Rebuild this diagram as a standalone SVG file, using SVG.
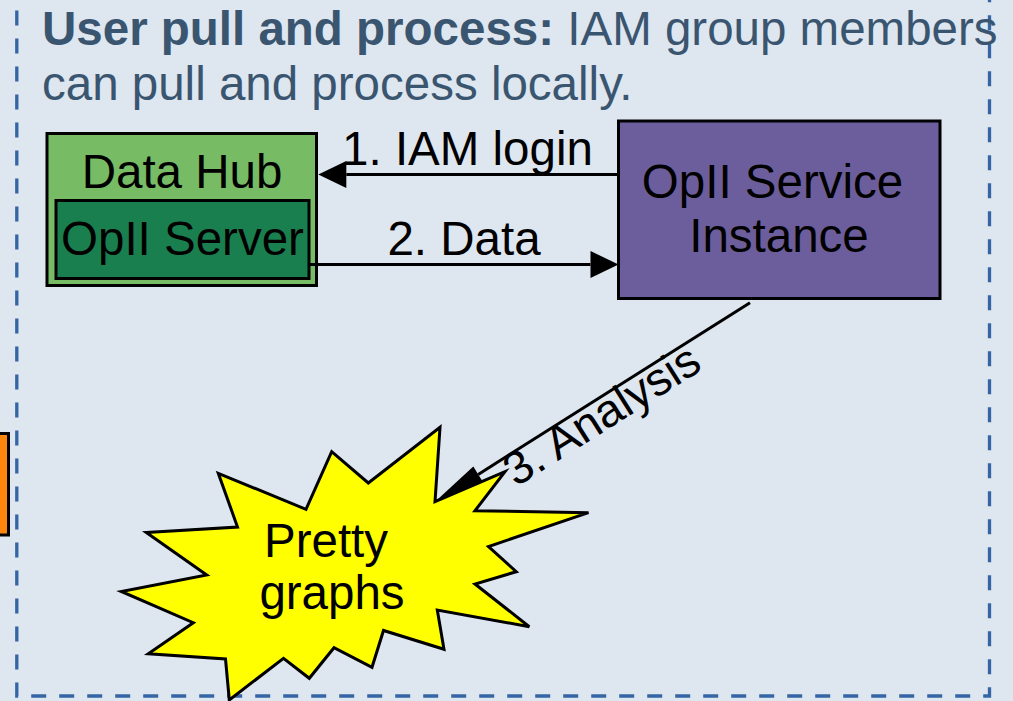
<svg xmlns="http://www.w3.org/2000/svg" width="1013" height="701" viewBox="0 0 1013 701">
<defs>
<style>
.box{stroke:#000;stroke-width:3;stroke-linejoin:miter}
.lbl{font-family:"Liberation Sans",Arial,sans-serif;font-size:47.5px;fill:#000}
.title{font-family:"Liberation Sans",Arial,sans-serif;font-size:47.5px;fill:#3a5570}
.conn{stroke:#000;stroke-width:3;fill:none}
</style>
<marker id="arrow" markerUnits="userSpaceOnUse" viewBox="0 -14 28 28" refX="0" refY="0" markerWidth="28" markerHeight="28" orient="auto" overflow="visible">
<path d="M0,-13.5 L28,0 L0,13.5 z" fill="#000"/>
</marker>
<marker id="arrowLong" markerUnits="userSpaceOnUse" viewBox="0 -10 52 20" refX="0" refY="0" markerWidth="52" markerHeight="20" orient="auto" overflow="visible">
<path d="M0,-9.2 L51,0 L0,9.2 z" fill="#000"/>
</marker>
</defs>
<rect x="0" y="0" width="1013" height="701" fill="#dee6ef"/>
<g id="frame">
<rect x="16.8" y="-20" width="972.7" height="716" fill="none" stroke="#3465a4" stroke-width="3.3" stroke-dasharray="15 13"/>
</g>
<g id="title">
<text class="title" x="42" y="45"><tspan font-weight="bold">User pull and process:</tspan> IAM group members</text>
<text class="title" x="42" y="100">can pull and process locally.</text>
</g>
<g id="orange-box">
<rect class="box" x="-10" y="433.5" width="18.5" height="101.5" fill="#ff860d"/>
</g>
<g id="data-hub">
<rect class="box" x="47" y="133.5" width="269.5" height="152" fill="#77bc65"/>
<text class="lbl" x="182" y="188" text-anchor="middle">Data Hub</text>
</g>
<g id="opii-server">
<rect class="box" x="56" y="200.5" width="253" height="78" fill="#1a7f4f"/>
<text class="lbl" x="182.5" y="255" text-anchor="middle">OpII Server</text>
</g>
<g id="opii-service">
<rect class="box" x="618.5" y="121" width="321.5" height="177.5" fill="#6c5e9c"/>
<text class="lbl" x="772.5" y="198" text-anchor="middle">OpII Service</text>
<text class="lbl" x="779" y="252" text-anchor="middle">Instance</text>
</g>
<g id="connectors">
<line class="conn" x1="617" y1="174.5" x2="346.3" y2="174.5" marker-end="url(#arrow)"/>
<text class="lbl" x="467.5" y="165" text-anchor="middle">1. IAM login</text>
<line class="conn" x1="309" y1="264.5" x2="590.5" y2="264.5" marker-end="url(#arrow)"/>
<text class="lbl" x="464" y="255" text-anchor="middle">2. Data</text>
<line class="conn" x1="750" y1="302.7" x2="478.2" y2="474.4" marker-end="url(#arrowLong)"/>
<text class="lbl" style="font-size:46.5px" transform="translate(516 487.5) rotate(-32.3)" x="0" y="0">3. Analysis</text>
</g>
<g id="pretty-graphs">
<polygon class="box" fill="#ffff00" stroke-width="3.3" points="440,427.3 435,501.7 505,471.7 475,510.7 588.5,512.7 488.5,546.5 516.3,571.7 475,584 529.3,626.7 437.3,610 444,649.3 383.5,630.5 372,667.3 334,647.7 309.3,678.3 283.5,658.3 229.3,700 225.5,659 148.3,653.8 193.3,622.7 121.3,591.5 206.7,575 146.3,532.5 237.5,527 218.3,473.3 306,509.3 331.7,451.7 368.3,483"/>
<text class="lbl" x="326" y="557" text-anchor="middle">Pretty</text>
<text class="lbl" x="332" y="609" text-anchor="middle">graphs</text>
</g>
</svg>
